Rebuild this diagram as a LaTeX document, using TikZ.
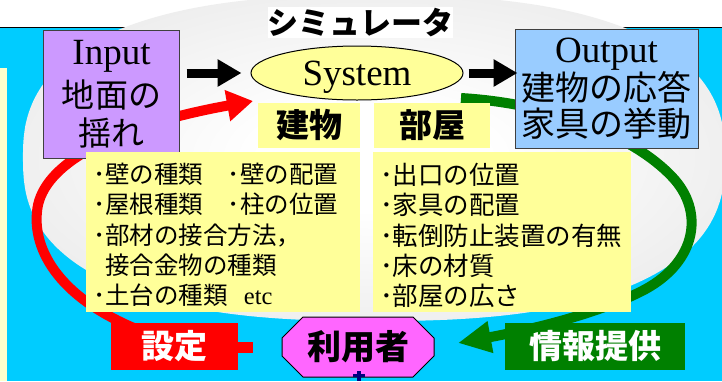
\documentclass[tikz,border=0pt]{standalone}
\usepackage{fontspec}
\setmainfont{Liberation Serif}
\newfontfamily\jp{Noto Sans CJK JP}
\usetikzlibrary{arrows.meta,shapes.geometric,shapes.misc}
\definecolor{bgcyan}{HTML}{00CCFF}
\definecolor{inpurple}{HTML}{CC99FF}
\definecolor{outblue}{HTML}{99CCFF}
\definecolor{paleyellow}{HTML}{FFFF99}
\definecolor{stripyellow}{HTML}{FFFFCC}
\definecolor{userpink}{HTML}{FF66FF}
\definecolor{infogreen}{HTML}{008000}
\definecolor{setred}{HTML}{FF0000}
\definecolor{figurenavy}{HTML}{000080}
\pgfdeclareradialshading{grayoval}{\pgfpoint{0bp}{0bp}}{color(0bp)=(white); color(8bp)=(white); color(50bp)=(black!15); color(100bp)=(black!15)}
\begin{document}
\begin{tikzpicture}[x=1bp,y=-1bp,
  iobox/.style={draw=black!75, line width=1bp, inner sep=0, align=center,
    font=\jp\fontsize{33bp}{38bp}\selectfont},
  sysellipse/.style={ellipse, draw=black, line width=1bp, fill=paleyellow, inner sep=0,
    minimum width=212bp, minimum height=54bp, text depth=0bp,
    font=\rmfamily\fontsize{37bp}{37bp}\selectfont},
  blackarrow/.style={line width=9bp, -{Triangle[length=24bp,width=26bp]}},
  redarc/.style={setred, line width=10bp, -{Triangle[length=26bp,width=30bp]}},
  greenarc/.style={infogreen, line width=10bp, -{Triangle[length=33bp,width=30bp]}},
  yellowbox/.style={fill=paleyellow, inner sep=0},
  headtext/.style={font=\jp\bfseries\fontsize{33bp}{33bp}\selectfont},
  listtext/.style={inner sep=0, align=left, anchor=north west,
    font=\jp\fontsize{24.5bp}{30.25bp}\selectfont},
  labelbox/.style={inner sep=0, text=white, minimum height=47bp,
    font=\jp\bfseries\fontsize{33bp}{33bp}\selectfont},
  userbox/.style={chamfered rectangle, chamfered rectangle xsep=10bp, chamfered rectangle ysep=11bp,
    draw=black, line width=1bp, fill=userpink, inner sep=0,
    minimum width=152bp, minimum height=60bp,
    font=\jp\bfseries\fontsize{34bp}{34bp}\selectfont}
]
\useasboundingbox (0,0) rectangle (722,381);
\fill[white] (0,0) rectangle (722,381);
% cyan background with black top edge
\fill[bgcyan] (0,27) rectangle (722,381);
\draw[black, line width=1bp] (0,27) -- (722,27);
% light yellow strip at left
\fill[stripyellow] (0,68) rectangle (7,381);
% grey rounded oval
\shade[shading=grayoval] plot[domain=0.5:360.5, samples=240, smooth cycle, variable=\t]
  ({374+351*sign(cos(\t))*pow(abs(cos(\t)),0.8)}, {158+163*sign(sin(\t))*pow(abs(sin(\t)),0.8)});
% title
\node[fill=white, inner sep=0, minimum width=185bp, minimum height=31bp,
  font=\jp\bfseries\fontsize{31bp}{31bp}\selectfont] (title) at (360.5,22.5) {シミュレータ};
% label boxes (drawn first so the arcs can start from them)
\node[labelbox, fill=setred, minimum width=127bp] (setting) at (174.5,346) {設定};
\node[labelbox, fill=infogreen, minimum width=180bp] (info) at (595,346) {情報提供};
\coordinate (redtip) at (253,101);
\coordinate (greenstart) at (461,98);
\coordinate (greentip) at (458,343);
% arcs
\draw[redarc] ([xshift=-30bp,yshift=-10bp]setting.north) .. controls (55,298) and (30,245) .. (38,205)
  .. controls (48,160) and (120,125) .. (redtip);
\draw[greenarc] (greenstart) .. controls (560,104) and (640,140) .. (675,180)
  .. controls (705,215) and (695,265) .. (640,292)
  .. controls (600,312) and (540,328) .. (greentip);
% redraw label box on top of the red arc's start
\node[labelbox, fill=setred, minimum width=127bp] (setting2) at (174.5,346) {設定};
% input / output / system
\node[iobox, fill=inpurple, minimum width=135bp, minimum height=128bp] (input) at (111.5,94)
  {{\rmfamily\fontsize{37bp}{37bp}\selectfont Input}\\[5bp]地面の\\揺れ};
\node[iobox, fill=outblue, minimum width=183bp, minimum height=119bp,
  font=\jp\fontsize{34bp}{36bp}\selectfont] (output) at (606.5,88.5)
  {{\rmfamily\fontsize{37bp}{37bp}\selectfont Output}\\建物の応答\\家具の挙動};
\node[sysellipse] (system) at (357,73) {System};
\draw[blackarrow, shorten <=7bp, shorten >=9bp] (input.east |- system.west) -- (system.west);
\draw[blackarrow, shorten <=5bp, shorten >=-3bp] (system.east) -- (output.west |- system.east);
% yellow boxes
\node[yellowbox, minimum width=102bp, minimum height=45bp, headtext] (bldhead) at (309,125.5) {建物};
\node[yellowbox, minimum width=116bp, minimum height=45bp, headtext] (roomhead) at (432,125.5) {部屋};
\node[yellowbox, minimum width=274bp, minimum height=160bp] (bldlist) at (223,232) {};
\node[yellowbox, minimum width=258bp, minimum height=160bp] (roomlist) at (502,232) {};
\node[listtext] (bldtext) at (93,163)
  {･壁の種類　･壁の配置\\･屋根種類　･柱の位置\\･部材の接合方法，\\\phantom{･}接合金物の種類\\･土台の種類\hspace{16bp}{\rmfamily etc}};
\node[listtext, font=\jp\fontsize{25.5bp}{30.25bp}\selectfont] (roomtext) at (380,163)
  {･出口の位置\\･家具の配置\\･転倒防止装置の有無\\･床の材質\\･部屋の広さ};
% user box
\node[userbox] (user) at (358,347) {利用者};
\coordinate (redstub) at (253,347);
\draw[setred, line width=11bp] (setting2.east |- redstub) -- (redstub);
% small navy figure below the user box
\fill[figurenavy] (357,371) rectangle (361,381);
\fill[figurenavy] (353,373.5) rectangle (365,376.5);
\end{tikzpicture}
\end{document}
